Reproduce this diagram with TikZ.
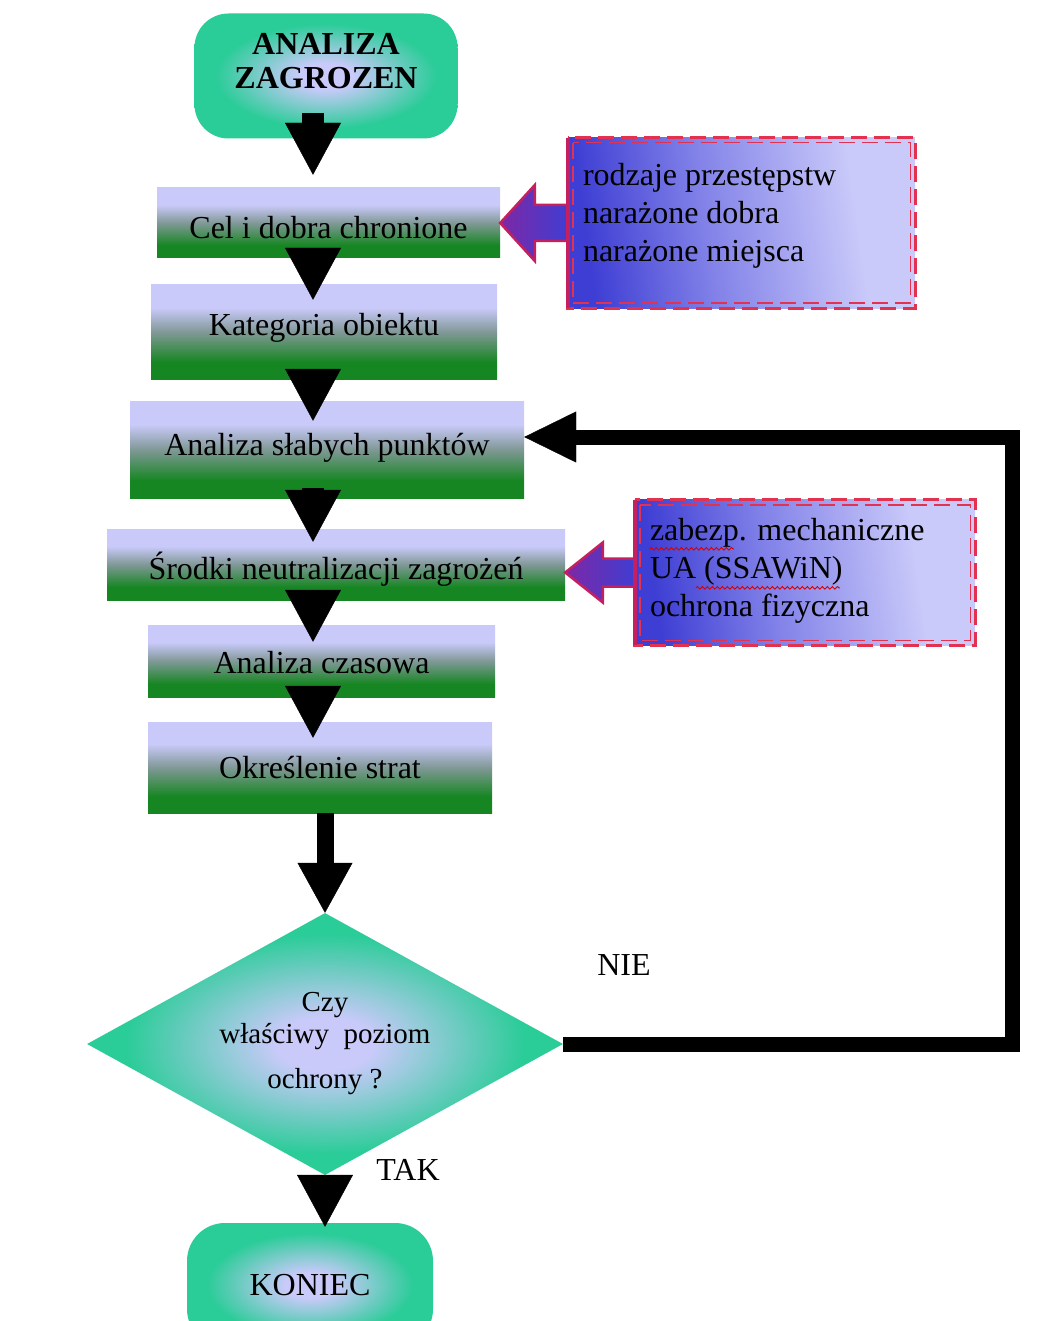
\documentclass[tikz,border=0pt]{standalone}
\usepackage{fontspec}
\setmainfont{Liberation Serif}
\usetikzlibrary{arrows.meta,calc,shapes.geometric,decorations.pathmorphing}

% palette
\definecolor{lav}{RGB}{202,202,250}
\definecolor{boxgreen}{RGB}{22,134,34}
\definecolor{boxmid}{RGB}{128,152,150}
\definecolor{tealg}{RGB}{42,204,152}
\definecolor{callblue}{RGB}{62,62,212}
\definecolor{callmid}{RGB}{128,128,232}
\definecolor{dashred}{RGB}{226,50,80}
\definecolor{edgemag}{RGB}{196,32,96}
\definecolor{arrpurple}{RGB}{125,40,165}

% fills
\pgfdeclareverticalshading{stepfill}{100bp}{color(0bp)=(boxgreen); color(34bp)=(boxgreen); color(50bp)=(boxmid); color(63bp)=(lav); color(100bp)=(lav)}
\pgfdeclareradialshading{glow}{\pgfpoint{0bp}{0bp}}{color(0bp)=(lav); color(5bp)=(lav); color(21bp)=(tealg); color(50bp)=(tealg)}
\pgfdeclarehorizontalshading{notefill}{100bp}{color(0bp)=(callblue); color(26bp)=(callblue); color(44bp)=(callmid); color(68bp)=(lav); color(100bp)=(lav)}

% shift a text line vertically without changing its declared size
\newcommand{\nudge}[2]{\raisebox{#1}[\height][\depth]{#2}}

\tikzset{
  txt/.style={font=\fontsize{32}{38}\selectfont},
  stepbox/.style={rectangle, shading=stepfill, draw=none, inner sep=0pt, txt},
  term/.style={rectangle, rounded corners=34pt, shading=glow, draw=none, inner sep=0pt, txt},
  notetext/.style={txt, align=left, inner sep=0pt, anchor=north west},
  noteedge/.style={draw=dashred, line width=3pt, dash pattern=on 16pt off 7pt},
  noteedgein/.style={draw=dashred, line width=1.4pt, dash pattern=on 16pt off 7pt},
  notearrow/.style={left color=arrpurple, right color=callblue, draw=edgemag, line width=2.5pt, line join=miter},
  flow/.style={line width=22pt, -{Triangle[length=52pt,width=56pt,line width=0.4pt]}},
  bigflow/.style={line width=17pt, -{Triangle[length=50pt,width=55pt,line width=0.4pt]}},
  backflow/.style={line width=15pt, line join=miter, -{Triangle[length=52pt,width=51pt,line width=0.4pt]}},
  squiggle/.style={draw=red!85!black, line width=0.9pt, decorate, decoration={snake, amplitude=1.3pt, segment length=5pt}}
}

\begin{document}
\begin{tikzpicture}[x=1pt, y=-1pt]
\useasboundingbox (0,0) rectangle (1043,1321);
\clip (0,0) rectangle (1043,1321);
\fill[white] (0,0) rectangle (1043,1321);

% terminals
\node[term, minimum width=263pt, minimum height=125pt] (start) at (326,76) {};
\node[font=\bfseries\fontsize{32}{34}\selectfont, align=center, inner sep=0pt] (startt) at (326,61) {ANALIZA\\ZAGROZEN};
\node[term, rounded corners=38pt, minimum width=246pt, minimum height=124pt] (end) at (310,1285) {KONIEC};

% process steps
\node[stepbox, minimum width=343pt, minimum height=70pt] (b1) at (328.5,223) {\nudge{-5pt}{Cel i dobra chronione}};
\node[stepbox, minimum width=346pt, minimum height=94pt] (b2) at (324,332) {\nudge{4pt}{Kategoria obiektu}};
\node[stepbox, minimum width=394pt, minimum height=97pt] (b3) at (327,449.5) {\nudge{2pt}{Analiza słabych punktów}};
\node[stepbox, minimum width=458pt, minimum height=71pt] (b4) at (336,564.5) {\nudge{-5pt}{Środki neutralizacji zagrożeń}};
\node[stepbox, minimum width=347pt, minimum height=72pt] (b5) at (321.5,661) {\nudge{-2pt}{Analiza czasowa}};
\node[stepbox, minimum width=344pt, minimum height=91pt] (b6) at (320,767.5) {Określenie strat};

% decision
\node[diamond, shading=glow, draw=none, inner sep=0pt, minimum width=476pt, minimum height=262pt] (dia) at (325,1044) {};
\node[font=\fontsize{29}{32}\selectfont, align=center, inner sep=0pt] (dq) at (dia.center)
  {Czy\\właściwy\ \ poziom\\[13pt]ochrony ?};

% side notes
\node[rectangle, draw=none, inner sep=0pt, minimum width=347pt, minimum height=170pt] (c1) at (741.5,223) {};
\node[rectangle, draw=none, inner sep=0pt, minimum width=340pt, minimum height=145pt] (c2) at (805,572.5) {};

\filldraw[notearrow] ($(c1.west)+(3,-18)$) -- ++(-36,0) -- ++(0,-20) -- (b1.east |- c1.west)
  -- ($(c1.west)+(-33,38)$) -- ++(0,-20) -- ($(c1.west)+(3,18)$) -- cycle;
\filldraw[notearrow] ($(c2.west)+(3,-14)$) -- ++(-35,0) -- ++(0,-16) -- (b4.east |- c2.west)
  -- ($(c2.west)+(-32,30)$) -- ++(0,-16) -- ($(c2.west)+(3,14)$) -- cycle;

\foreach \c in {c1,c2}{
  \fill[shading=notefill, shading angle=8] (\c.north west) rectangle (\c.south east);
  \draw[noteedge] (\c.north west) rectangle (\c.south east);
  \draw[noteedgein] ($(\c.north west)+(5,5)$) rectangle ($(\c.south east)+(-5,-5)$);
  \draw[edgemag, line width=4pt] (\c.north west) -- (\c.south west);
}

\node[notetext] (c1t) at ($(c1.north west)+(15,25)$) {rodzaje przestępstw\\narażone dobra\\narażone miejsca};
\node[notetext] (c2t) at ($(c2.north west)+(15,18)$) {zabezp. mechaniczne\\UA (SSAWiN)\\ochrona fizyczna};
\draw[squiggle] ($(c2t.north west)+(0,31)$) -- ++(84,0);
\draw[squiggle] ($(c2t.north west)+(46,70)$) -- ++(144,0);

% labels
\node[txt, inner sep=0pt] (nie) at (624,965) {NIE};
\node[txt, inner sep=0pt] (tak) at (408,1170) {TAK};

% connectors
\coordinate (ax) at (313,0);
\draw[flow] ($(start.south -| ax)+(0,-26)$) -- ($(b1.north -| ax)+(0,-13)$);
\draw[flow] ($(b1.south -| ax)+(0,-10)$) -- ($(b2.north -| ax)+(0,15)$);
\draw[flow] ($(b2.south -| ax)+(0,-10)$) -- ($(b3.north -| ax)+(0,20)$);
\draw[flow] ($(b3.south -| ax)+(0,-10)$) -- ($(b4.north -| ax)+(0,13)$);
\draw[flow] ($(b4.south -| ax)+(0,-10)$) -- ($(b5.north -| ax)+(0,17)$);
\draw[flow] ($(b5.south -| ax)+(0,-10)$) -- ($(b6.north -| ax)+(0,16)$);
\draw[bigflow] (b6.south -| dia.north) -- (dia.north);
\draw[flow] (dia.south) -- ($(end.north -| dia.south)+(0,4)$);

\coordinate (rc) at (1012,437);
\draw[backflow] (dia.east) -| (rc) -- (b3.east |- rc);
\end{tikzpicture}
\end{document}
